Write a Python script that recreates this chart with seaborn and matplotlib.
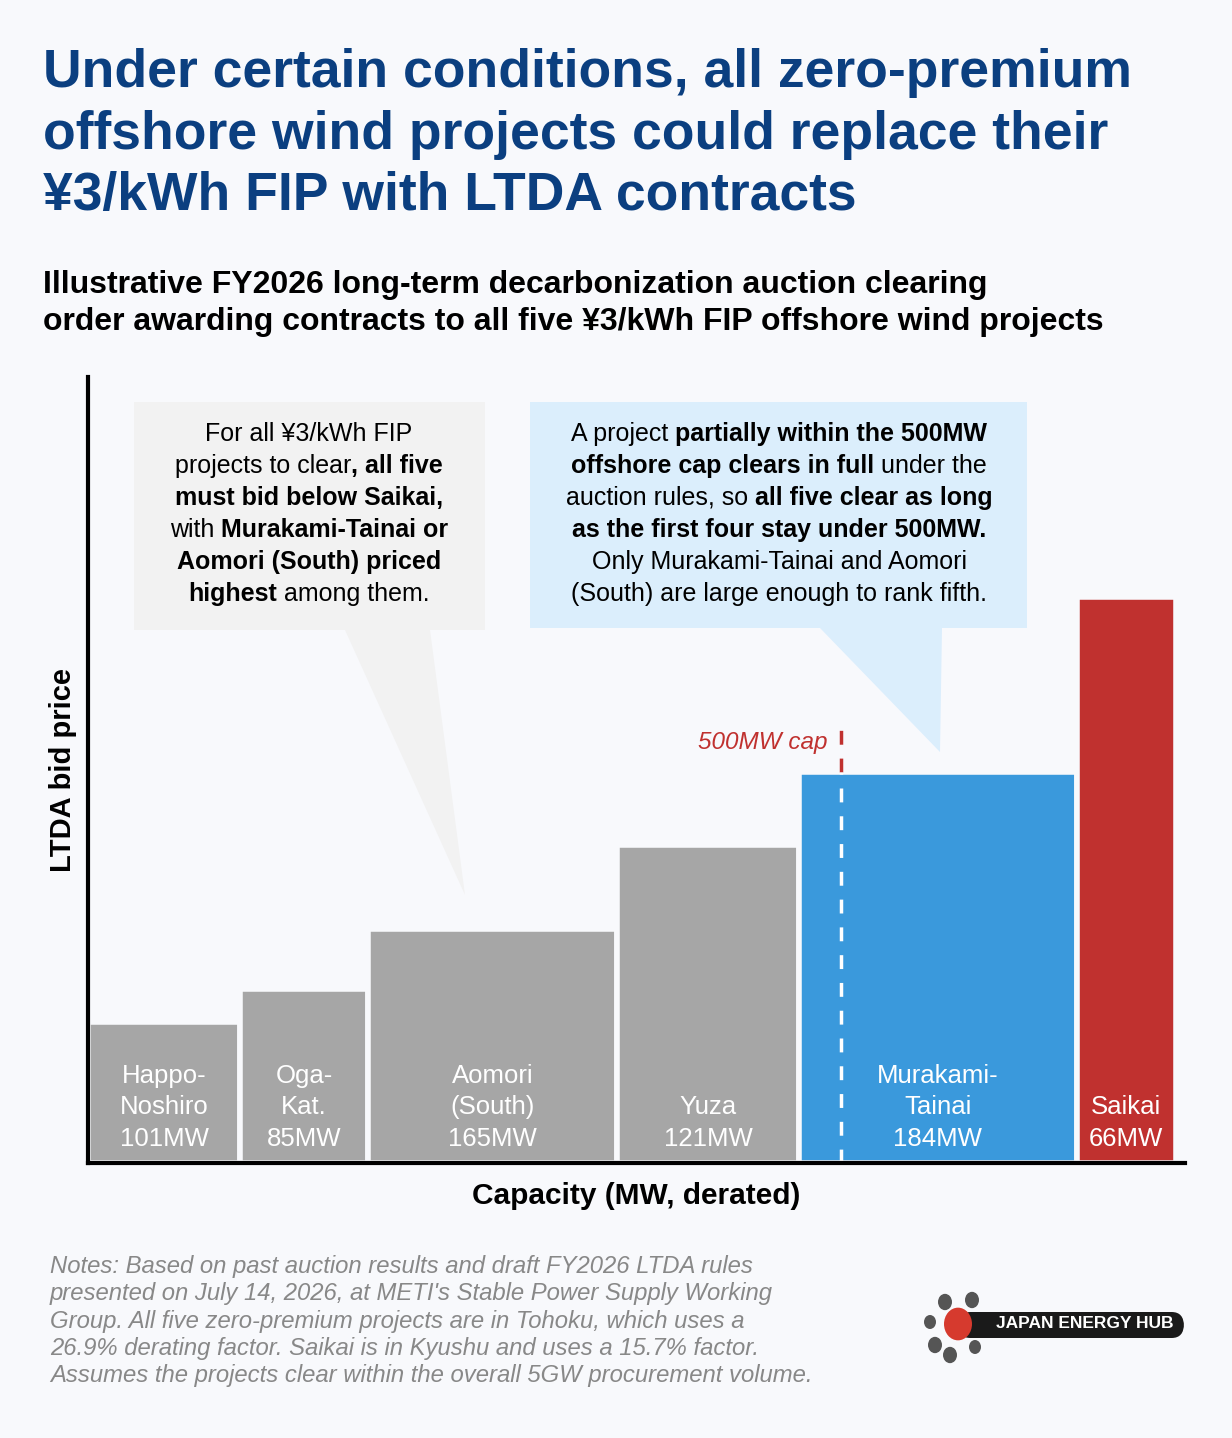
import matplotlib
matplotlib.use('Agg')
import matplotlib.pyplot as plt
import seaborn as sns
import pandas as pd
from matplotlib.patches import Polygon, FancyBboxPatch, Circle

# Datos
projects = ['Happo-\nNoshiro', 'Oga-\nKat.', 'Aomori\n(South)', 'Yuza', 'Murakami-\nTainai', 'Saikai']
capacity = [101, 85, 165, 121, 184, 66]
bid_price = [141, 174, 234, 318, 391, 566]
colors = ['#a6a6a6', '#a6a6a6', '#a6a6a6', '#a6a6a6', '#3a99dc', '#c0312f']
cap_mw = 500

W, H = 1232, 1438
BG = '#f8f9fc'
sns.set_theme(style='white')
plt.rcParams['font.family'] = ['Liberation Sans', 'DejaVu Sans']
plt.rcParams['text.color'] = 'black'
plt.rcParams['axes.labelcolor'] = 'black'

fig = plt.figure(figsize=(W / 100, H / 100), dpi=100, facecolor=BG)
ax = fig.add_axes([88 / W, 1 - 1163 / H, (1185 - 88) / W, (1163 - 377) / H])
ax.set_facecolor(BG)

df = pd.DataFrame({'project': projects, 'mw': capacity, 'price': bid_price})
df['left'] = df['mw'].cumsum() - df['mw']
ax.bar(df['left'], df['price'], width=df['mw'], align='edge', color=colors,
       edgecolor=BG, linewidth=4)
for _, r in df.iterrows():
    ax.text(r['left'] + r['mw'] / 2, 12, f"{r['project']}\n{r['mw']}MW", ha='center', va='bottom',
            color='white', fontsize=18.5, linespacing=1.4)

ax.set_xlim(0, 728)
ax.set_ylim(0, 786)
ax.set_xticks([])
ax.set_yticks([])
sns.despine(ax=ax)
for s in ['left', 'bottom']:
    ax.spines[s].set_linewidth(3)
    ax.spines[s].set_color('black')
ax.set_xlabel('Capacity (MW, derated)', fontsize=21.5, fontweight='bold', labelpad=14)
ax.set_ylabel('LTDA bid price', fontsize=21, fontweight='bold', labelpad=8)

# Linea del limite de 500MW
ax.plot([cap_mw, cap_mw], [391, 443], color='#c0312f', ls='--', lw=2.5, dashes=(4, 4))
ax.plot([cap_mw, cap_mw], [0, 391], color='white', ls='--', lw=2.5, dashes=(4, 4))
ax.text(cap_mw - 9, 420, '500MW cap', ha='right', va='center', color='#c0312f',
        fontsize=17.5, style='italic')


def px(x, y):
    return x / W, 1 - y / H


# Titulos
fig.text(*px(43, 48), 'Under certain conditions, all zero-premium\noffshore wind projects could replace their\n¥3/kWh FIP with LTDA contracts',
         fontsize=38.5, fontweight='bold', color='#0b3f80', va='top', ha='left', linespacing=1.3)
fig.text(*px(43, 270), 'Illustrative FY2026 long-term decarbonization auction clearing\norder awarding contracts to all five ¥3/kWh FIP offshore wind projects',
         fontsize=23, fontweight='bold', color='black', va='top', ha='left', linespacing=1.3)

# Cajas de anotacion con cola
boxes = [
    (134, 402, 485, 630, '#f2f2f2', [(345, 630), (430, 630), (465, 895)]),
    (530, 402, 1027, 628, '#dbeefc', [(820, 628), (942, 628), (940, 752)]),
]
for x0, y0, x1, y1, c, tail in boxes:
    fig.patches.append(Polygon([px(*p) for p in tail], closed=True, facecolor=c,
                               edgecolor='none', transform=fig.transFigure, zorder=5))
    fig.patches.append(Polygon([px(x0, y0), px(x1, y0), px(x1, y1), px(x0, y1)], closed=True,
                               facecolor=c, edgecolor='none', transform=fig.transFigure, zorder=5))

renderer = fig.canvas.get_renderer()


def rich_line(cx, cy, segs, size=18):
    objs = []
    for txt, bold in segs:
        t = fig.text(0, 0, txt, fontsize=size, fontweight='bold' if bold else 'normal',
                     va='center', ha='left', zorder=6, color='black')
        objs.append(t)
    widths = [t.get_window_extent(renderer).width for t in objs]
    x = cx - sum(widths) / 2
    for t, w in zip(objs, widths):
        t.set_position(px(x, cy))
        x += w


left_lines = [
    [('For all ¥3/kWh FIP', False)],
    [('projects to clear', False), (', all five', True)],
    [('must bid below Saikai,', True)],
    [('with ', False), ('Murakami-Tainai or', True)],
    [('Aomori (South) priced', True)],
    [('highest', True), (' among them.', False)],
]
right_lines = [
    [('A project ', False), ('partially within the 500MW', True)],
    [('offshore cap clears in full', True), (' under the', False)],
    [('auction rules, so ', False), ('all five clear as long', True)],
    [('as the first four stay under 500MW.', True)],
    [('Only Murakami-Tainai and Aomori', False)],
    [('(South) are large enough to rank fifth.', False)],
]
for i, segs in enumerate(left_lines):
    rich_line(309, 434 + i * 32, segs)
for i, segs in enumerate(right_lines):
    rich_line(779, 434 + i * 32, segs)

# Notas
fig.text(*px(50, 1255), "Notes: Based on past auction results and draft FY2026 LTDA rules\npresented on July 14, 2026, at METI's Stable Power Supply Working\nGroup. All five zero-premium projects are in Tohoku, which uses a\n26.9% derating factor. Saikai is in Kyushu and uses a 15.7% factor.\nAssumes the projects clear within the overall 5GW procurement volume.",
         fontsize=17.2, style='italic', color='#888888', va='top', ha='left', linespacing=1.24)

# Logo
fig.patches.append(FancyBboxPatch(px(958, 1338), 226 / W, 26 / H, boxstyle='round,pad=0,rounding_size=0.01',
                                  facecolor='#1a1a1a', edgecolor='none', transform=fig.transFigure, zorder=5))
fig.text(*px(1085, 1324), 'JAPAN ENERGY HUB', fontsize=12.5, fontweight='bold', color='white',
         ha='center', va='center', zorder=6)
for (x, y, r, c) in [(945, 1302, 7, '#555'), (972, 1300, 7, '#555'), (930, 1322, 6, '#555'),
                     (935, 1345, 7, '#555'), (950, 1355, 7, '#555'), (975, 1347, 6, '#555'),
                     (958, 1324, 14, '#d63a2e')]:
    fig.patches.append(Circle(px(x, y), r / W, facecolor=c, edgecolor='none',
                              transform=fig.transFigure, zorder=7))

fig.savefig('out.png', dpi=100, facecolor=BG)
